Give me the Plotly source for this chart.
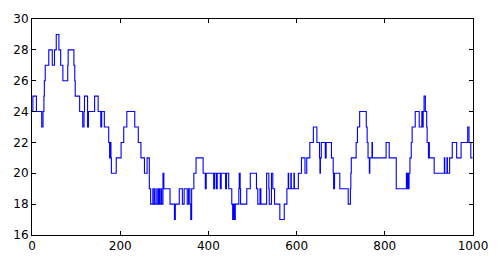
import plotly.graph_objects as go

# Change points of the step series (x where a new level starts, level value)
change_x = [0, 2, 10, 22, 25, 27, 28, 30, 38, 46, 51, 55, 61, 65, 70, 81, 82, 95, 97, 98,
            108, 115, 118, 119, 126, 128, 142, 150, 156, 158, 164,
            174, 176, 178, 179, 180, 191, 202, 208, 215, 233, 241, 247, 255, 261, 266, 269,
            274, 275, 278, 279, 283, 284, 287, 289, 292, 294, 297, 299, 313, 323, 325, 334,
            341, 345, 352, 355, 358, 360, 362, 367, 372, 388, 393, 395, 412, 414, 418, 420,
            427, 429, 439, 441, 446, 453, 455, 457, 459, 461, 469, 470, 472, 473, 487, 495,
            509, 512, 517, 519, 532, 537, 538, 543, 546, 550, 562, 572, 578, 581, 582, 587,
            588, 594, 595, 604, 611, 619, 623, 630, 638, 646, 652, 653, 654, 656, 665, 667,
            679, 683, 684, 686, 698, 717, 722, 723, 724, 735, 738, 743, 758, 760, 762, 765,
            766, 771, 772, 803, 810, 826, 849, 851, 852, 854, 855, 857, 860, 862, 869, 878,
            884, 886, 887, 889, 892, 895, 896, 899, 900, 901, 912, 935, 936, 941, 942, 947,
            953, 963, 973, 988, 991, 995, 999]
change_y = [24, 25, 24, 23, 24, 25, 26, 27, 28, 27, 28, 29, 28, 27, 26, 27, 28, 27, 26, 25,
            24, 23, 24, 25, 23, 24, 25, 24, 23, 24, 23,
            22, 21, 22, 21, 20, 21, 22, 23, 24, 23, 22, 21, 20, 21, 19, 18,
            19, 18, 19, 18, 19, 18, 19, 18, 19, 18, 20, 19, 18, 17, 18, 19,
            18, 19, 18, 19, 18, 17, 19, 20, 21, 20, 19, 20, 19, 20, 19, 20,
            19, 20, 19, 20, 19, 18, 17, 18, 17, 18, 19, 20, 19, 18, 19, 20,
            19, 18, 19, 18, 20, 19, 18, 20, 19, 18, 17, 18, 19, 20, 19, 20,
            19, 20, 19, 20, 21, 20, 21, 22, 23, 22, 21, 20, 21, 22, 21, 22,
            21, 20, 19, 20, 19, 18, 19, 20, 21, 22, 23, 24, 23, 22, 21, 20,
            21, 22, 21, 22, 21, 19, 20, 19, 20, 19, 20, 21, 22, 23, 24, 23,
            24, 23, 24, 25, 24, 23, 22, 21, 22, 21, 20, 21, 20, 21, 20, 21,
            22, 21, 22, 23, 22, 21, 21]

x_ticks = [0, 200, 400, 600, 800, 1000]
y_ticks = [16, 18, 20, 22, 24, 26, 28, 30]

fig = go.Figure()
fig.add_trace(go.Scatter(x=change_x, y=change_y, mode="lines", line_shape="hv",
                         line=dict(color="#0000ff", width=1.1), showlegend=False))

axis_common = dict(showline=True, linecolor="black", linewidth=1, mirror="allticks",
                   ticks="inside", ticklen=4, tickwidth=1, tickcolor="black",
                   showgrid=False, zeroline=False,
                   tickfont=dict(family="DejaVu Sans", size=12, color="black"))
fig.update_xaxes(range=[0, 1000], tickvals=x_ticks, ticktext=[str(v) for v in x_ticks],
                 **axis_common)
fig.update_yaxes(range=[16, 30], tickvals=y_ticks, ticktext=[str(v) for v in y_ticks],
                 **axis_common)
fig.update_layout(width=500, height=265, margin=dict(l=32, r=24, t=16, b=28),
                  paper_bgcolor="white", plot_bgcolor="white")
fig.write_html("out.html")
